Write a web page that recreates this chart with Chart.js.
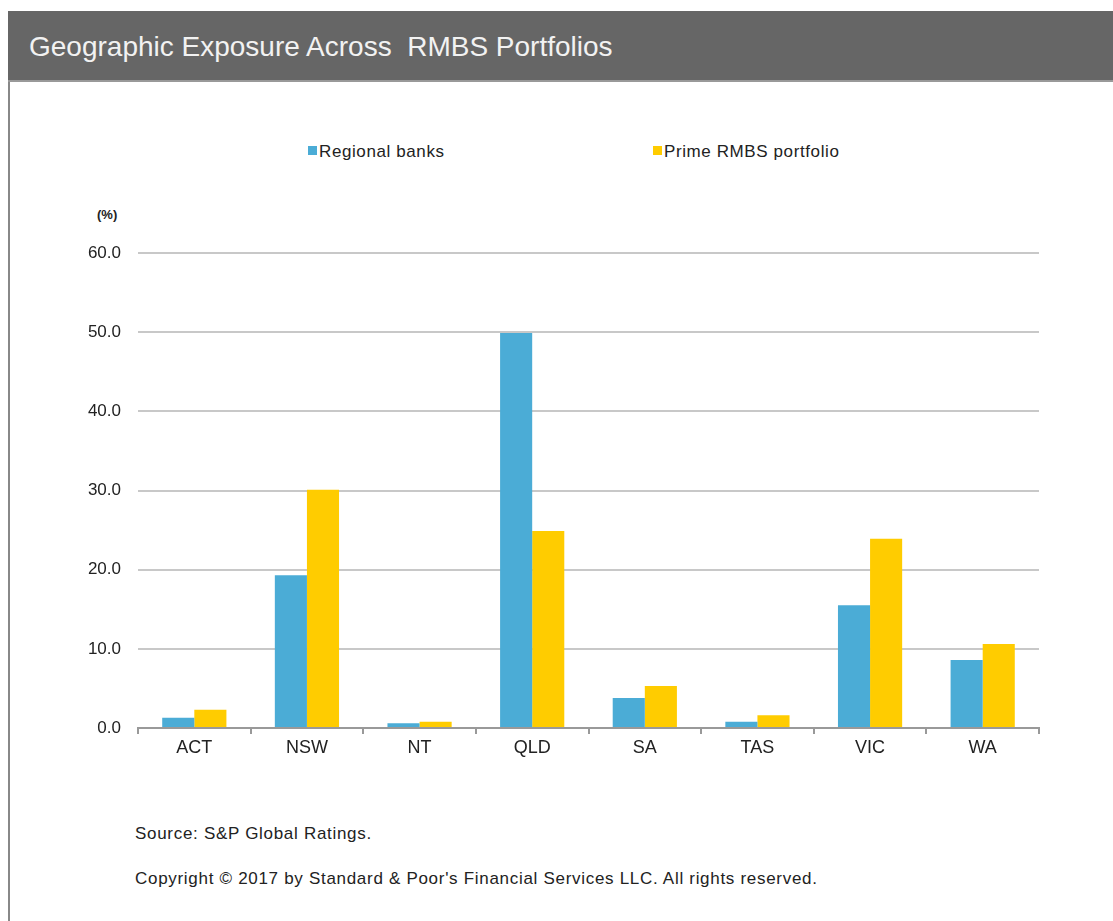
<!DOCTYPE html>
<html>
<head>
<meta charset="utf-8">
<script src="https://cdn.jsdelivr.net/npm/chart.js@4.4.0/dist/chart.umd.min.js"></script>
<style>
    body { margin: 0; background: #fff; width: 1113px; height: 921px; position: relative; overflow: hidden; font-family: "Liberation Sans", Arial, sans-serif; }
    .title-bar { position: absolute; left: 8px; top: 11px; width: 1105px; height: 69px; background: #666; border-bottom: 2px solid #999; }
    .title-bar span { position: absolute; left: 21px; top: 20px; color: #f2f2f2; font-size: 28px; white-space: pre; }
    .frame { position: absolute; left: 8px; top: 82px; width: 0; height: 839px; border-left: 2px solid #888; }
    .legend { position: absolute; top: 142px; font-size: 17px; letter-spacing: 0.6px; color: #222; white-space: nowrap; }
    .legend i { display: inline-block; width: 9px; height: 9px; margin-right: 2px; vertical-align: 2px; }
    .unit { position: absolute; left: 97px; top: 207px; font-size: 13px; font-weight: bold; color: #222; }
    .note { position: absolute; left: 135px; font-size: 17px; letter-spacing: 0.7px; color: #222; white-space: nowrap; }
    #wrap { position: absolute; left: 0; top: 200px; width: 1113px; height: 600px; }
</style>
</head>
<body>
<div class="title-bar"><span>Geographic Exposure Across  RMBS Portfolios</span></div>
<div class="frame"></div>
<div id="legend"></div>
<div class="unit">(%)</div>
<div id="wrap"><canvas id="chart"></canvas></div>
<div class="note" style="top:824px">Source: S&amp;P Global Ratings.</div>
<div class="note" style="top:869px">Copyright © 2017 by Standard &amp; Poor's Financial Services LLC. All rights reserved.</div>

<script>
const states = ['ACT', 'NSW', 'NT', 'QLD', 'SA', 'TAS', 'VIC', 'WA'];
const regionalBanks = [1.3, 19.3, 0.6, 49.9, 3.8, 0.8, 15.5, 8.6];
const primeRmbs = [2.3, 30.1, 0.8, 24.9, 5.3, 1.6, 23.9, 10.6];
const yTicks = [0, 10, 20, 30, 40, 50, 60];

const series = [
    { label: 'Regional banks', data: regionalBanks, color: '#4bacd6', left: 308 },
    { label: 'Prime RMBS portfolio', data: primeRmbs, color: '#ffcc00', left: 653 }
];

// legend sits far apart in the original, so it's plain html
document.getElementById('legend').innerHTML = series.map(s => `
    <div class="legend" style="left:${s.left}px"><i style="background:${s.color}"></i>${s.label}</div>
`).join('');

const ctx = document.getElementById('chart').getContext('2d');
new Chart(ctx, {
    type: 'bar',
    data: {
        labels: states,
        datasets: series.map(s => ({
            label: s.label,
            data: s.data,
            backgroundColor: s.color,
            borderWidth: 0,
            categoryPercentage: 0.57,
            barPercentage: 1.0
        }))
    },
    options: {
        responsive: true,
        maintainAspectRatio: false,
        animation: false,
        layout: { padding: { top: 53, right: 74, bottom: 0, left: 0 } },
        plugins: {
            legend: { display: false },
            tooltip: { enabled: false }
        },
        scales: {
            x: {
                grid: { offset: true, drawOnChartArea: false, drawTicks: true, tickLength: 6, color: '#999', lineWidth: 2 },
                border: { display: true, color: '#999', width: 2 },
                ticks: { color: '#222', font: { family: 'Liberation Sans', size: 18 }, padding: 3 },
                afterFit: scale => { scale.height = 72; }
            },
            y: {
                min: 0,
                max: 60,
                afterBuildTicks: scale => { scale.ticks = yTicks.map(v => ({ value: v })); },
                grid: { color: '#c8c8c8', lineWidth: 2, drawTicks: false },
                border: { display: false },
                ticks: {
                    color: '#222',
                    font: { family: 'Liberation Sans', size: 17 },
                    padding: 17,
                    callback: v => v.toFixed(1)
                },
                afterFit: scale => { scale.width = 138; }
            }
        }
    }
});
</script>
</body>
</html>
